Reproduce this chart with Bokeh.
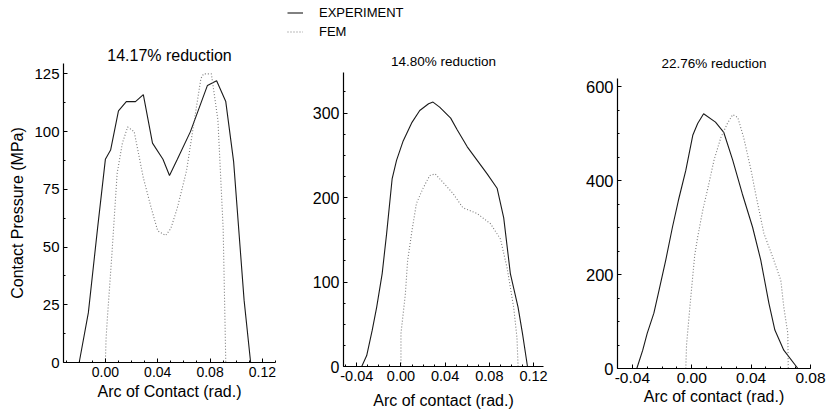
import numpy as np
from bokeh.plotting import figure
from bokeh.layouts import row, column
from bokeh.models import FixedTicker, Range1d, Legend, LegendItem
from bokeh.embed import file_html
from bokeh.resources import INLINE

FONT = "Liberation Sans"

# ---------------- data ----------------
titles = ["14.17% reduction", "14.80% reduction", "22.76% reduction"]
xlabels = ["Arc of Contact (rad.)", "Arc of contact (rad.)", "Arc of contact (rad.)"]
ylabel = "Contact Pressure (MPa)"
legend_labels = ["EXPERIMENT", "FEM"]

# Panel 1 (14.17 %)
exp1_x = [-0.020, -0.013, -0.006, 0.000, 0.004, 0.010, 0.016, 0.023, 0.029, 0.036, 0.044,
          0.049, 0.055, 0.065, 0.078, 0.085, 0.092, 0.098, 0.106, 0.111]
exp1_y = [0, 21.6, 58, 88, 92, 109, 113, 113, 116, 95, 88, 81, 88, 100, 120, 122, 113, 87, 27, 0]
fem1_x = [0.000, 0.0005, 0.0015, 0.005, 0.009, 0.013, 0.017, 0.022, 0.029, 0.035, 0.040, 0.046,
          0.050, 0.055, 0.062, 0.068, 0.073, 0.075, 0.081, 0.086, 0.090, 0.0915, 0.092]
fem1_y = [0, 10, 19, 47, 82, 95, 102, 100, 80, 67, 57, 55, 58, 67, 83, 105, 123, 125, 125, 105, 58, 15, 0]

# Panel 2 (14.80 %)
exp2_x = [-0.0355, -0.031, -0.026, -0.022, -0.017, -0.013, -0.008, -0.004, 0.002, 0.010, 0.017,
          0.025, 0.029, 0.035, 0.045, 0.051, 0.060, 0.069, 0.078, 0.087, 0.093, 0.099, 0.106,
          0.110, 0.1145]
exp2_y = [0, 13, 43, 70, 110, 157, 222, 244, 267, 289, 303, 311, 313, 307, 294, 280, 260, 244,
          228, 211, 176, 110, 70, 39, 0]
fem2_x = [0.000, 0.000, 0.004, 0.006, 0.010, 0.014, 0.020, 0.026, 0.031, 0.038, 0.047, 0.056,
          0.069, 0.081, 0.090, 0.096, 0.102, 0.105, 0.106]
fem2_y = [0, 39, 86, 125, 161, 193, 211, 226, 228, 218, 205, 188, 181, 169, 151, 117, 70, 34, 0]

# Panel 3 (22.76 %)
exp3_x = [-0.037, -0.033, -0.030, -0.0255, -0.022, -0.0175, -0.013, -0.009, -0.004, 0.0007, 0.004,
          0.008, 0.016, 0.0216, 0.0276, 0.034, 0.041, 0.0465, 0.052, 0.056, 0.062, 0.0715]
exp3_y = [0, 39, 75, 118, 167, 231, 301, 358, 422, 497, 522, 543, 525, 503, 444, 373, 301, 231,
          139, 82, 39, 0]
fem3_x = [-0.004, -0.0035, -0.001, 0.002, 0.004, 0.0074, 0.011, 0.015, 0.0196, 0.024, 0.0276,
          0.031, 0.035, 0.040, 0.043, 0.0486, 0.0546, 0.060, 0.062, 0.0647, 0.0650]
fem3_y = [0, 50, 140, 241, 280, 337, 386, 444, 492, 522, 541, 535, 492, 422, 373, 288, 237, 188,
          131, 75, 0]

# ticks
xt1 = [0.00, 0.04, 0.08, 0.12]
xt2 = [-0.04, 0.00, 0.04, 0.08, 0.12]
xt3 = [-0.04, 0.00, 0.04, 0.08]
yt1 = [0, 25, 50, 75, 100, 125]
yt2 = [0, 100, 200, 300]
yt3 = [0, 200, 400, 600]

series = [
    (exp1_x, exp1_y, fem1_x, fem1_y, xt1, yt1),
    (exp2_x, exp2_y, fem2_x, fem2_y, xt2, yt2),
    (exp3_x, exp3_y, fem3_x, fem3_y, xt3, yt3),
]

EXP_STYLE = dict(line_color="#1a1a1a", line_width=1.1)
FEM_STYLE = dict(line_color="#7a7a7a", line_width=1.1, line_dash="1 2")

LEG_H = 40
ROW_H = 415 - LEG_H

# ---------------- legend strip ----------------
# the key renderers reuse panel-2 data, but this strip's ranges keep them out of view
leg = figure(width=826, height=LEG_H, output_backend="svg", toolbar_location=None,
             x_range=Range1d(1000, 1826), y_range=Range1d(1000, 1000 + LEG_H),
             min_border=0)
leg.axis.visible = False
leg.grid.visible = False
leg.outline_line_color = None
le = leg.line(exp2_x, exp2_y, **EXP_STYLE)
lf = leg.line(fem2_x, fem2_y, **FEM_STYLE)
legend = Legend(items=[LegendItem(label=legend_labels[0], renderers=[le]),
                       LegendItem(label=legend_labels[1], renderers=[lf])],
                location=(287, 1.5), orientation="vertical",
                padding=0, margin=0, spacing=4,
                glyph_width=16, glyph_height=15, label_height=15,
                label_standoff=16, label_text_font=FONT,
                label_text_font_size="13px", label_text_color="black",
                border_line_color=None, background_fill_alpha=0)
leg.add_layout(legend)

# ---------------- panels ----------------
# (fig width, border_left, border_right, frame_top(global), frame_bottom(global), xrange, yrange,
#  x minor step, y minor step, x tick font, y tick font, title font, title standoff, xlabel standoff)
geom = [
    (280, 63, 5, 63, 362, (-0.032, 0.130), (0, 129.5), 0.01, 12.5, "14px", "15px", "16px", 0, 3),
    (280, 63, 17, 72, 366, (-0.052, 0.129), (0, 348), 0.01, 25, "14.5px", "16px", "13.5px", 8, 8),
    (266, 57, 16, 78, 368, (-0.050, 0.080), (0, 618), 0.01, 50, "15.5px", "16.5px", "13.5px", 15, 2),
]

figs = []
for i, (g, s) in enumerate(zip(geom, series)):
    W, bl, br, ft, fb, xr, yr, xm, ym, xfs, yfs, tfs, tso, xlso = g
    ex, ey, fx, fy, xt, yt = s
    p = figure(width=W, height=ROW_H, output_backend="svg", toolbar_location=None,
               x_range=Range1d(*xr), y_range=Range1d(*yr),
               min_border_left=bl, min_border_right=br,
               min_border_top=ft - LEG_H, min_border_bottom=415 - fb)
    p.grid.visible = False
    p.outline_line_color = None
    p.background_fill_color = "white"
    p.border_fill_color = "white"

    p.line(ex, ey, **EXP_STYLE)
    p.line(fx, fy, **FEM_STYLE)

    minor_x = list(np.round(np.arange(xr[0] - xr[0] % xm, xr[1] + 1e-9, xm), 4))
    minor_y = list(np.arange(0, yr[1] + 1e-9, ym))
    p.xaxis.ticker = FixedTicker(ticks=xt, minor_ticks=minor_x)
    p.yaxis.ticker = FixedTicker(ticks=yt, minor_ticks=minor_y)
    p.xaxis.major_label_overrides = {v: f"{v:.2f}" for v in xt}
    for ax, fs in ((p.xaxis[0], xfs), (p.yaxis[0], yfs)):
        ax.axis_line_color = "black"
        ax.axis_line_width = 1.2
        ax.major_tick_in = 4
        ax.major_tick_out = 0
        ax.minor_tick_in = 2
        ax.minor_tick_out = 0
        ax.major_tick_line_color = "black"
        ax.minor_tick_line_color = "black"
        ax.major_label_text_font = FONT
        ax.major_label_text_font_size = fs
        ax.major_label_text_color = "black"
        ax.axis_label_text_font = FONT
        ax.axis_label_text_font_style = "normal"
        ax.axis_label_text_font_size = "16px"
        ax.axis_label_text_color = "black"
    p.xaxis.major_label_standoff = 4
    p.yaxis.major_label_standoff = 4
    p.xaxis.axis_label = xlabels[i]
    p.xaxis.axis_label_standoff = xlso
    if i == 0:
        p.yaxis.axis_label = ylabel
        p.yaxis.axis_label_standoff = 5

    p.title.text = titles[i]
    p.title.align = "center"
    p.title.text_font = FONT
    p.title.text_font_style = "normal"
    p.title.text_font_size = tfs
    p.title.text_color = "black"
    p.title.standoff = tso
    figs.append(column(p))

layout = column(leg, row(*figs))
open("out.html", "w").write(file_html(layout, INLINE))
